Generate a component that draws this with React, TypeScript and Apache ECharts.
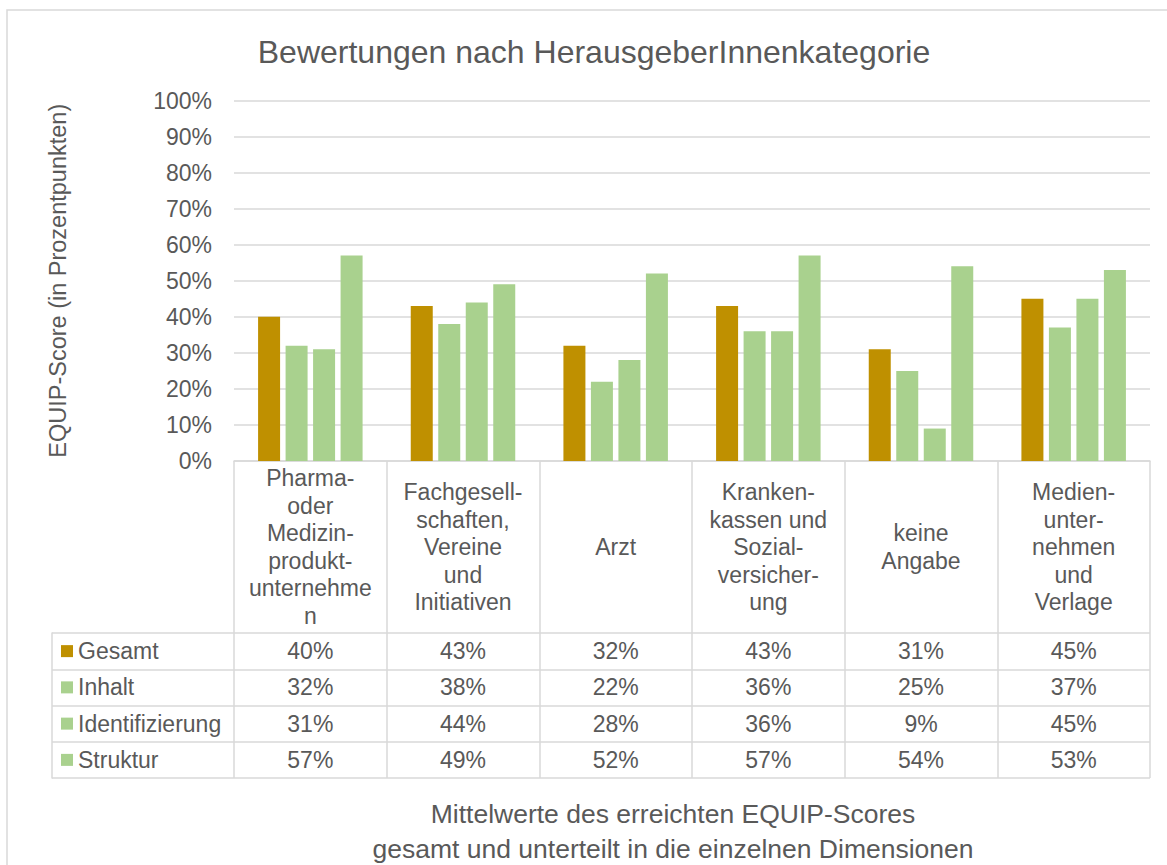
import React, { useEffect, useRef } from 'react';
import * as echarts from 'echarts';

const categories = [
  'Pharma-\noder\nMedizin-\nprodukt-\nunternehme\nn',
  'Fachgesell-\nschaften,\nVereine\nund\nInitiativen',
  'Arzt',
  'Kranken-\nkassen und\nSozial-\nversicher-\nung',
  'keine\nAngabe',
  'Medien-\nunter-\nnehmen\nund\nVerlage',
];
const seriesNames = ['Gesamt', 'Inhalt', 'Identifizierung', 'Struktur'];
const gesamt = [40, 43, 32, 43, 31, 45];
const inhalt = [32, 38, 22, 36, 25, 37];
const identifizierung = [31, 44, 28, 36, 9, 45];
const struktur = [57, 49, 52, 57, 54, 53];
const yMin = 0;
const yMax = 100;
const yInterval = 10;

const titleText = 'Bewertungen nach HerausgeberInnenkategorie';
const yAxisTitle = 'EQUIP-Score (in Prozentpunkten)';
const xAxisTitle = 'Mittelwerte des erreichten EQUIP-Scores\ngesamt und unterteilt in die einzelnen Dimensionen';

const GOLD = '#BF9000';
const GREEN = '#A9D18E';
const TEXT = '#595959';
const LINE = '#D9D9D9';
const FONT = '"Liberation Sans", Arial, sans-serif';

export default function App() {
  const ref = useRef<HTMLDivElement>(null);

  useEffect(() => {
    const chart = echarts.init(ref.current!, null, { renderer: 'svg' });
    const rows = [gesamt, inhalt, identifizierung, struktur];
    const colors = [GOLD, GREEN, GREEN, GREEN];

    const barSeries = rows.map((vals, r) => ({
      name: seriesNames[r],
      type: 'bar',
      xAxisIndex: 0,
      yAxisIndex: 0,
      data: vals,
      barWidth: 22,
      barGap: '25%',
      itemStyle: { color: colors[r] },
      silent: true,
    }));

    const tableSeries = rows.map((vals, r) => ({
      name: seriesNames[r] + ' (Tabelle)',
      type: 'scatter',
      xAxisIndex: 1,
      yAxisIndex: 1,
      data: vals.map((v, i) => [i, r, v]),
      symbolSize: 1,
      itemStyle: { color: 'rgba(255,255,255,0)', opacity: 1 },
      silent: true,
      label: {
        show: true,
        position: 'inside',
        formatter: (p: any) => Math.round(p.value[2]) + '%',
        fontSize: 23,
        color: TEXT,
        opacity: 1,
        fontFamily: FONT,
      },
    }));

    const option: any = {
      animation: false,
      backgroundColor: '#ffffff',
      textStyle: { fontFamily: FONT },
      grid: [
        { left: 234, right: 17, top: 100.5, bottom: 404, outerBoundsMode: 'none', containLabel: false },
        { left: 234, right: 17, top: 633, bottom: 87, outerBoundsMode: 'none', containLabel: false },
      ],
      xAxis: [
        {
          type: 'category',
          gridIndex: 0,
          data: categories,
          boundaryGap: true,
          axisLine: { show: true, lineStyle: { color: LINE, width: 1.5 } },
          axisTick: {
            show: true,
            interval: 0,
            alignWithLabel: false,
            length: 317,
            lineStyle: { color: LINE, width: 1.5 },
          },
          axisLabel: {
            interval: 0,
            margin: 86,
            verticalAlign: 'middle',
            align: 'center',
            fontSize: 23,
            lineHeight: 27.5,
            color: TEXT,
            fontFamily: FONT,
            hideOverlap: false,
          },
          splitLine: { show: false },
        },
        {
          type: 'category',
          gridIndex: 1,
          data: categories,
          boundaryGap: true,
          axisLine: { show: false },
          axisTick: { show: false },
          axisLabel: { show: false },
          splitLine: { show: false },
        },
      ],
      yAxis: [
        {
          type: 'value',
          gridIndex: 0,
          min: yMin,
          max: yMax,
          interval: yInterval,
          name: yAxisTitle,
          nameLocation: 'middle',
          nameRotate: 90,
          nameGap: 164,
          nameMoveOverlap: false,
          nameTextStyle: { fontSize: 23.5, color: TEXT, fontFamily: FONT },
          axisLine: { show: false },
          axisTick: { show: false },
          axisLabel: {
            formatter: '{value}%',
            margin: 22,
            fontSize: 23,
            color: TEXT,
            fontFamily: FONT,
          },
          splitLine: { show: true, lineStyle: { color: LINE, width: 1.5 } },
        },
        {
          type: 'category',
          gridIndex: 1,
          data: seriesNames,
          inverse: true,
          boundaryGap: true,
          axisLine: { show: false },
          axisTick: {
            show: true,
            interval: 0,
            length: 182,
            lineStyle: { color: LINE, width: 1.5 },
          },
          axisLabel: {
            interval: 0,
            align: 'left',
            margin: 173,
            fontSize: 23,
            color: TEXT,
            fontFamily: FONT,
            formatter: (value: string, index: number) =>
              `{${index === 0 ? 'gold' : 'green'}| }{gap| }${value}`,
            rich: {
              gold: { width: 12, height: 12, backgroundColor: GOLD },
              green: { width: 12, height: 12, backgroundColor: GREEN },
              gap: { width: 5 },
            },
          },
          splitLine: { show: true, interval: 0, lineStyle: { color: LINE, width: 1.5 } },
        },
        {
          type: 'category',
          gridIndex: 1,
          data: seriesNames,
          inverse: true,
          position: 'left',
          offset: 182,
          axisLine: { show: true, lineStyle: { color: LINE, width: 1.5 } },
          axisTick: { show: false },
          axisLabel: { show: false },
          splitLine: { show: false },
        },
      ],
      graphic: [
        {
          type: 'rect',
          z: -10,
          silent: true,
          shape: { x: 7, y: 10, width: 1400, height: 1100 },
          style: { fill: 'none', stroke: LINE, lineWidth: 1.5 },
        },
        {
          type: 'text',
          x: 594,
          y: 51.5,
          silent: true,
          style: {
            text: titleText,
            fontSize: 32,
            fontFamily: FONT,
            fill: TEXT,
            align: 'center',
            verticalAlign: 'middle',
          },
        },
        {
          type: 'text',
          x: 673,
          y: 831.5,
          silent: true,
          style: {
            text: xAxisTitle,
            fontSize: 26.5,
            lineHeight: 35,
            fontFamily: FONT,
            fill: TEXT,
            align: 'center',
            verticalAlign: 'middle',
          },
        },
      ],
      series: [...barSeries, ...tableSeries],
    };

    chart.setOption(option);
    return () => chart.dispose();
  }, []);

  return (
    <div
      ref={ref}
      style={{ position: 'fixed', left: 0, top: 0, width: 1167, height: 865 }}
    />
  );
}
